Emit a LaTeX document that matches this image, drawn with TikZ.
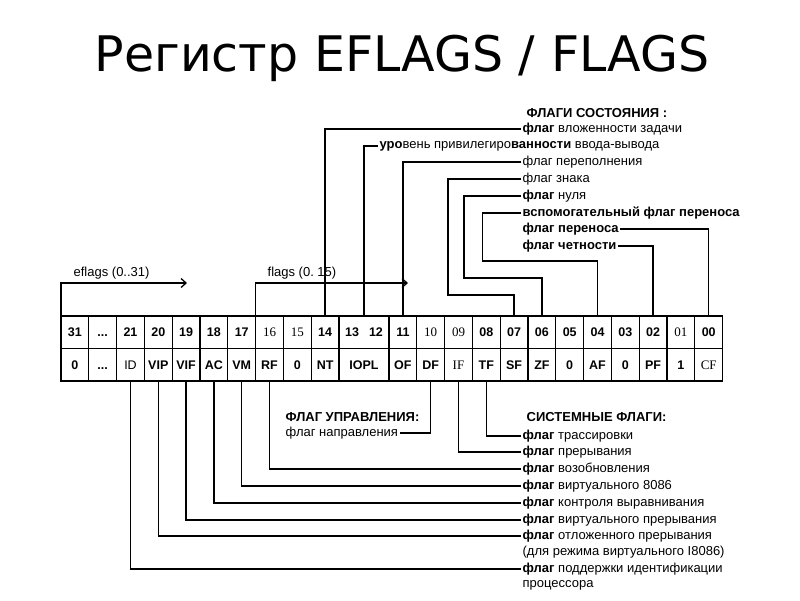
\documentclass[tikz,border=0pt]{standalone}
\usepackage{fontspec}
\setmainfont{Liberation Sans}
\newfontfamily\titlefont{DejaVu Sans}
\newfontfamily\scanserif{Liberation Serif}
\usetikzlibrary{positioning,arrows.meta}

\tikzset{
  cell/.style={draw, minimum width=27.8pt, minimum height=32.5pt, inner sep=0pt, outer sep=0pt,
    text height=9pt, text depth=0pt, font=\fontsize{12.5}{13}\selectfont\bfseries},
  widecell/.style={cell, minimum width=50pt},
  faint/.style={font=\fontsize{13}{14}\selectfont\scanserif},
  lbl/.style={anchor=west, inner sep=1pt, font=\fontsize{13}{14}\selectfont},
  head/.style={lbl, font=\fontsize{13}{14}\selectfont\bfseries},
}

\begin{document}
\begin{tikzpicture}[x=1pt, y=-1pt, line width=1.3pt, >={Straight Barb[length=5pt,width=9pt]}]
  \useasboundingbox (0,0) rectangle (800,600);
  \node[font=\titlefont\fontsize{49}{51}\selectfont] (title) at (402,58) {Регистр EFLAGS / FLAGS};

  % bit numbers
  \node[cell, anchor=north west] (t31) at (61,316) {31};
  \node[cell, right=0pt of t31] (tdots) {...};
  \node[cell, right=0pt of tdots] (t21) {21};
  \node[cell, right=0pt of t21] (t20) {20};
  \node[cell, right=0pt of t20] (t19) {19};
  \node[cell, right=0pt of t19] (t18) {18};
  \node[cell, right=0pt of t18] (t17) {17};
  \node[cell, faint, right=0pt of t17] (t16) {16};
  \node[cell, faint, right=0pt of t16] (t15) {15};
  \node[cell, right=0pt of t15] (t14) {14};
  \node[widecell, right=0pt of t14] (t1312) {13\hspace{10pt}12};
  \node[cell, right=0pt of t1312] (t11) {11};
  \node[cell, faint, right=0pt of t11] (t10) {10};
  \node[cell, faint, right=0pt of t10] (t09) {09};
  \node[cell, right=0pt of t09] (t08) {08};
  \node[cell, right=0pt of t08] (t07) {07};
  \node[cell, right=0pt of t07] (t06) {06};
  \node[cell, right=0pt of t06] (t05) {05};
  \node[cell, right=0pt of t05] (t04) {04};
  \node[cell, right=0pt of t04] (t03) {03};
  \node[cell, right=0pt of t03] (t02) {02};
  \node[cell, faint, right=0pt of t02] (t01) {01};
  \node[cell, right=0pt of t01] (t00) {00};

  % flag names
  \node[cell, below=0pt of t31] (b31) {0};
  \node[cell, below=0pt of tdots] (bdots) {...};
  \node[cell, below=0pt of t21, font=\fontsize{12.5}{13}\selectfont] (fID) {ID};
  \node[cell, below=0pt of t20] (fVIP) {VIP};
  \node[cell, below=0pt of t19] (fVIF) {VIF};
  \node[cell, below=0pt of t18] (fAC) {AC};
  \node[cell, below=0pt of t17] (fVM) {VM};
  \node[cell, below=0pt of t16] (fRF) {RF};
  \node[cell, below=0pt of t15] (b15) {0};
  \node[cell, below=0pt of t14] (fNT) {NT};
  \node[widecell, below=0pt of t1312] (fIOPL) {IOPL};
  \node[cell, below=0pt of t11] (fOF) {OF};
  \node[cell, below=0pt of t10] (fDF) {DF};
  \node[cell, faint, below=0pt of t09] (fIF) {IF};
  \node[cell, below=0pt of t08] (fTF) {TF};
  \node[cell, below=0pt of t07] (fSF) {SF};
  \node[cell, below=0pt of t06] (fZF) {ZF};
  \node[cell, below=0pt of t05] (b05) {0};
  \node[cell, below=0pt of t04] (fAF) {AF};
  \node[cell, below=0pt of t03] (b03) {0};
  \node[cell, below=0pt of t02] (fPF) {PF};
  \node[cell, below=0pt of t01] (b01) {1};
  \node[cell, faint, below=0pt of t00] (fCF) {CF};

  % register widths
  \node[lbl] (eflags) at (72,273) {eflags (0..31)};
  \node[lbl] (flags) at (266,273) {flags (0.\ 15)};
  \coordinate (eflagsend) at (187,283);
  \coordinate (flagsend) at (408,283);
  \draw[->] (t31.north west) |- (eflagsend);
  \draw[->] (t16.north west) |- (flagsend);

  % status flags
  \node[head] (hstat) at (525,113) {ФЛАГИ СОСТОЯНИЯ :};
  \node[lbl] (lNT) at (521,129) {\textbf{флаг} вложенности задачи};
  \node[lbl] (lIOPL) at (378,146) {\textbf{уро}вень привилегиро\textbf{ванности} ввода-вывода};
  \node[lbl] (lOF) at (521,162) {флаг переполнения};
  \node[lbl] (lSF) at (521,179) {флаг знака};
  \node[lbl] (lZF) at (521,196) {\textbf{флаг} нуля};
  \node[head] (lAF) at (521,213) {вспомогательный флаг переноса};
  \node[head] (lCF) at (521,229) {флаг переноса};
  \node[head] (lPF) at (521,246) {флаг четности};

  \draw (t14.north) |- (lNT.west);
  \draw (t1312.north) |- (lIOPL.west);
  \draw (t11.north) |- (lOF.west);
  \draw (t07.north) |- ++(-66,-21) |- (lSF.west);
  \draw (t06.north) |- ++(-78,-38) |- (lZF.west);
  \draw (t04.north) |- ++(-115,-55) |- (lAF.west);
  \draw (t00.north) |- (lCF.east);
  \draw (t02.north) |- (lPF.east);

  % control flag
  \node[head] (hctl) at (284,417) {ФЛАГ УПРАВЛЕНИЯ:};
  \node[lbl] (lDF) at (284,433) {флаг направления};
  \draw (fDF.south) |- (lDF.east);

  % system flags
  \node[head] (hsys) at (525,417) {СИСТЕМНЫЕ ФЛАГИ:};
  \node[lbl] (lTF) at (521,436) {\textbf{флаг} трассировки};
  \node[lbl] (lIF) at (521,452) {\textbf{флаг} прерывания};
  \node[lbl] (lRF) at (521,469) {\textbf{флаг} возобновления};
  \node[lbl] (lVM) at (521,486) {\textbf{флаг} виртуального 8086};
  \node[lbl] (lAC) at (521,503) {\textbf{флаг} контроля выравнивания};
  \node[lbl] (lVIF) at (521,520) {\textbf{флаг} виртуального прерывания};
  \node[lbl] (lVIP) at (521,536) {\textbf{флаг} отложенного прерывания};
  \node[lbl] (lVIPb) at (521,552) {(для режима виртуального I8086)};
  \node[lbl] (lID) at (521,569) {\textbf{флаг} поддержки идентификации};
  \node[lbl] (lIDb) at (521,585) {процессора};

  \draw (fTF.south) |- (lTF.west);
  \draw (fIF.south) |- (lIF.west);
  \draw (fRF.south) |- (lRF.west);
  \draw (fVM.south) |- (lVM.west);
  \draw (fAC.south) |- (lAC.west);
  \draw (fVIF.south) |- (lVIF.west);
  \draw (fVIP.south) |- (lVIP.west);
  \draw (fID.south) |- (lID.west);
\end{tikzpicture}
\end{document}
